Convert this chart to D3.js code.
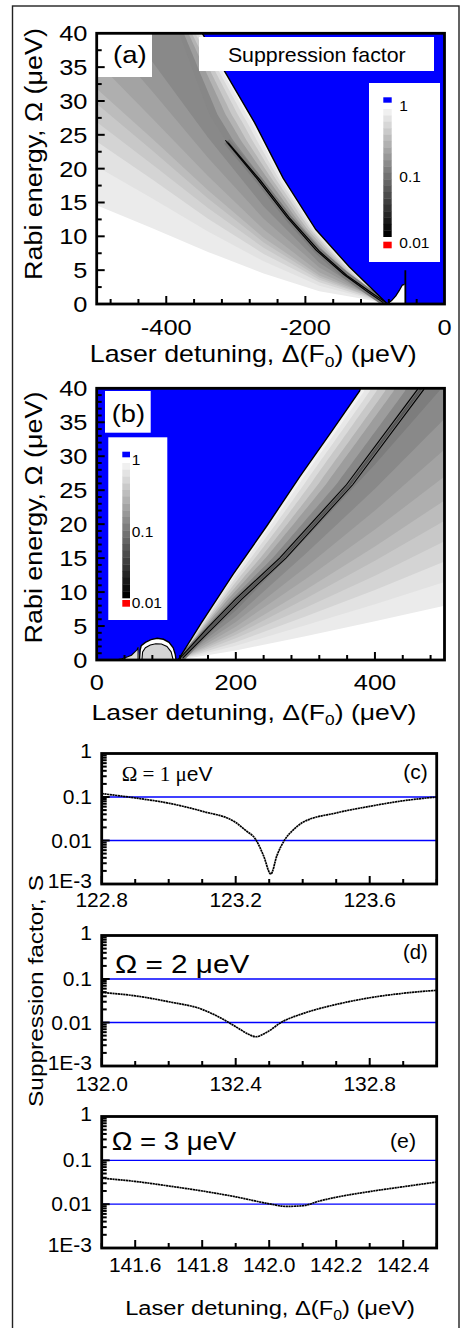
<!DOCTYPE html>
<html><head><meta charset="utf-8">
<script src="https://cdn.jsdelivr.net/npm/d3@7"></script>
<style>html,body{margin:0;padding:0;background:#fff}svg{display:block}</style>
</head><body>
<svg id="fig" width="461" height="1328" xmlns="http://www.w3.org/2000/svg"></svg>
<script>
// ================= DATA =================
// colour bar ticks (suppression factor)
const cbarTicks = [1, 0.1, 0.01];

// ---- panel (a): detuning (µeV) vs Rabi energy (µeV) ----
const aXTickLabels = [-400, -200, 0];
const aYTickLabels = [0, 5, 10, 15, 20, 25, 30, 35, 40];
const aBoundary = [[-82,0],[-103,2.1],[-137,5.5],[-185,11],[-232,18.6],[-273,26.8],[-315,34.2],[-354,41]];
const aRes1 = [[-88,0.2],[-112,1.9],[-145,4.4],[-185,8],[-227,12.9],[-270,18.6],[-315,24.2]];
const aRes2 = [[-84,0.2],[-107,1.8],[-140,4.2],[-180,7.8],[-222,12.6],[-265,18.3],[-311,23.8]];
const aRidgeTop = [[-338,28],[-360,34],[-385,41]];
const aFanDelta = [-500,-420,-340,-260,-180,-120,-82];
const aFanLevels = [0.76,0.64,0.5,0.4,0.32,0.25,0.2,0.16,0.125];
const aFanOmega = [
  [14.6,11.2,7.7,4.5,1.9,0.8,0],
  [20.3,15.6,10.7,6.3,2.7,1.1,0],
  [24.0,18.4,12.6,7.4,3.2,1.3,0],
  [26.9,20.6,14.2,8.3,3.6,1.5,0],
  [29.6,22.7,15.6,9.1,3.9,1.6,0],
  [31.8,24.4,16.8,9.8,4.2,1.8,0],
  [35.8,27.4,18.9,11.0,4.7,1.9,0],
  [40.9,31.4,21.6,12.6,5.4,2.0,0],
  [46.7,35.8,24.6,14.4,6.1,2.1,0]];
const aSideLobe = [[-81.3,0.1],[-76,0.5],[-70,1.2],[-65,2.0],[-60.6,2.8],[-57.5,2.9]];
const aSpike = [[-56.3,0],[-56.3,5.0]];

// ---- panel (b) ----
const bXTickLabels = [0, 200, 400];
const bYTickLabels = [0, 5, 10, 15, 20, 25, 30, 35, 40];
const bBoundary = [[117,0],[150,5.4],[196,12.6],[245,19.8],[292,27],[336,33.4],[378,39.6],[382,41]];
const bRes1 = [[120,0.3],[160,4.8],[200,9.0],[263,15],[359,25.8],[461,39.8],[463,41]];
const bRes2 = [[124,0.3],[168,4.8],[209,9.0],[272,15],[368,25.8],[470,39.8],[472,41]];
const bFanDelta = [117,200,300,400,500];
const bFanLevels = [0.76,0.64,0.5,0.4,0.32,0.25,0.2,0.16,0.125,0.1];
const bFanOmega = [
  [0,1.4,3.5,5.7,8],
  [0,2.1,5.1,8.2,11.5],
  [0,2.6,6.4,10.3,14.5],
  [0,3.2,7.7,12.4,17.5],
  [0,3.7,9.0,14.6,20.5],
  [0,4.2,10.3,16.7,23.5],
  [0,4.9,11.9,19.2,27],
  [0,5.6,13.6,22.0,31],
  [0,6.4,15.6,25.2,35.5],
  [0,7.3,17.8,28.8,40.5]];
const bDome = [[114,0],[113,0.8],[110,1.8],[104,2.6],[96,3.05],[87,3.2],[78,3.0],[70,2.6],[64,2.1],[62.5,1.5],[61.5,0]];
const bDomeInner = [[110,0],[107,1.2],[101,2.0],[93,2.35],[85,2.4],[77,2.2],[70,1.8],[66,1.2],[65,0]];
const bSliver = [[28,0],[40,0.3],[50,0.7],[58,1.5],[59.5,1.9],[59.5,0]];

// near-boundary gradient (fraction of the way from boundary to resonance) and level
const stripT = [1, 0.8, 0.6, 0.45, 0.3, 0.18, 0.08];
const stripLevels = [0.12, 0.18, 0.27, 0.4, 0.55, 0.72, 0.88];

// ---- panels (c)-(e): suppression factor vs detuning ----
const logTickValues = [1e-3, 1e-2, 1e-1, 1];
const logTickLabels = ["1E-3", "0.01", "0.1", "1"];
const refLines = [0.1, 0.01];

const cDelta = [122.8,122.9,123.0,123.1,123.2,123.23,123.26,123.283,123.305,123.323,123.345,123.37,123.4,123.5,123.6,123.7,123.8];
const cS     = [0.12,0.095,0.072,0.047,0.026,0.017,0.0105,0.0045,0.0017,0.0045,0.01,0.017,0.026,0.043,0.061,0.082,0.1];
const cXTicks = [122.8, 123.2, 123.6];

const dDelta = [132.0,132.1,132.2,132.3,132.37,132.41,132.44,132.46,132.49,132.54,132.6,132.7,132.8,132.9,133.0];
const dS     = [0.049,0.041,0.03,0.02,0.011,0.0072,0.0053,0.0047,0.0058,0.0105,0.016,0.026,0.037,0.047,0.055];
const dXTicks = [132.0, 132.4, 132.8];

const eDelta = [141.5,141.6,141.7,141.8,141.9,142.0,142.05,142.1,142.15,142.2,142.3,142.4,142.5];
const eS     = [0.039,0.033,0.026,0.020,0.0147,0.0102,0.0089,0.0092,0.0118,0.0144,0.0194,0.025,0.032];
const eXTicks = [141.6, 141.8, 142.0, 142.2, 142.4];

// ================= DRAWING =================
const svg = d3.select('#fig');
const defs = svg.append('defs');
const SANS = "'Liberation Sans', Arial, Helvetica, sans-serif";
const SERIF = "'Liberation Serif', 'Times New Roman', serif";
const BLUE = '#0000ff', RED = '#ff0000';
const grayLevel = d3.scaleLog().domain([0.01, 1]).range([0, 250]).clamp(true);
const shade = s => { const g = Math.round(grayLevel(s)); return d3.rgb(g, g, g).formatHex(); };

function label(parent, o) {
  const g = parent.append('g').attr('transform', `translate(${o.x},${o.y})` + (o.rotate ? ` rotate(${o.rotate})` : ''));
  const t = g.append('text').attr('x', 0).attr('y', 0)
    .attr('font-family', o.family || SANS).attr('font-size', o.size)
    .attr('text-anchor', o.anchor || 'start').attr('fill', '#000');
  (o.parts || [{ text: o.text }]).forEach(p => {
    const ts = t.append('tspan').text(p.text);
    if (p.family) ts.attr('font-family', p.family);
    if (p.size) ts.attr('font-size', p.size);
    if (p.dy) ts.attr('dy', p.dy);
  });
  let sx = o.sx || 1;
  if (o.width) sx = o.width / t.node().getBBox().width;
  if (sx !== 1) t.attr('transform', `scale(${sx},1)`);
  return t;
}

function ticks(g, o) {
  const tk = g.append('g').attr('stroke', '#000').attr('stroke-width', 2);
  o.yMinor.forEach(v => tk.append('line').attr('x1', o.left).attr('x2', o.left + 5).attr('y1', o.ys(v)).attr('y2', o.ys(v)));
  o.yMajor.forEach(v => tk.append('line').attr('x1', o.left).attr('x2', o.left + 8).attr('y1', o.ys(v)).attr('y2', o.ys(v)));
  o.xMinor.forEach(v => tk.append('line').attr('y1', o.bottom).attr('y2', o.bottom - 5).attr('x1', o.xs(v)).attr('x2', o.xs(v)));
  o.xMajor.forEach(v => tk.append('line').attr('y1', o.bottom).attr('y2', o.bottom - 8).attr('x1', o.xs(v)).attr('x2', o.xs(v)));
}

function frame(g, left, top, right, bottom) {
  g.append('rect').attr('x', left).attr('y', top).attr('width', right - left).attr('height', bottom - top)
    .attr('fill', 'none').attr('stroke', '#000').attr('stroke-width', 2.8);
}

function colorbar(g, c) {
  g.append('rect').attr('x', c.box[0]).attr('y', c.box[1]).attr('width', c.box[2]).attr('height', c.box[3]).attr('fill', '#fff');
  const yc = d3.scaleLog().domain([1, 0.01]).range([c.top, c.bottom]);
  const n = 20;
  d3.range(n).forEach(i => {
    const s0 = Math.pow(10, -2 * i / n), s1 = Math.pow(10, -2 * (i + 1) / n);
    const gv = Math.round((n - 1 - i) / (n - 1) * 240);
    g.append('rect').attr('x', c.x).attr('width', c.w).attr('y', yc(s0)).attr('height', yc(s1) - yc(s0) + 0.3)
      .attr('fill', d3.rgb(gv, gv, gv).formatHex());
  });
  g.append('rect').attr('x', c.x).attr('width', c.w).attr('y', c.blue[0]).attr('height', c.blue[1] - c.blue[0]).attr('fill', BLUE);
  g.append('rect').attr('x', c.x).attr('width', c.w).attr('y', c.red[0]).attr('height', c.red[1] - c.red[0]).attr('fill', RED);
  cbarTicks.forEach((v, i) => label(g, { x: c.labelX, y: c.labelY[i], text: String(v), size: 15.5 }));
}

function heatPanel(c) {
  const xs = d3.scaleLinear().domain(c.xDomain).range([c.left, c.right]);
  const ys = d3.scaleLinear().domain([0, 40]).range([c.bottom, c.top]);
  const line = d3.line().x(d => xs(d[0])).y(d => ys(d[1]));
  defs.append('clipPath').attr('id', c.id).append('rect')
    .attr('x', c.left).attr('y', c.top).attr('width', c.right - c.left).attr('height', c.bottom - c.top);
  const g = svg.append('g');
  const p = g.append('g').attr('clip-path', `url(#${c.id})`);
  p.append('rect').attr('x', c.left).attr('y', c.top).attr('width', c.right - c.left).attr('height', c.bottom - c.top).attr('fill', '#fff');
  // fan-shaped bands
  c.fanOmega.forEach((row, k) => {
    const contour = c.fanDelta.map((d, i) => [d, row[i]]);
    p.append('path').attr('d', line(c.fanPoly(contour)) + 'Z').attr('fill', shade(c.fanLevels[k]));
  });
  // gradient strips between blue boundary and resonance
  const bOf = d3.scaleLinear().domain(c.boundary.map(d => d[1])).range(c.boundary.map(d => d[0]));
  const eOf = d3.scaleLinear().domain(c.ridge.map(d => d[1])).range(c.ridge.map(d => d[0]));
  const ws = d3.range(0, 41.01, 0.5);
  stripT.forEach((t, k) => {
    const edge = ws.map(w => [bOf(w), w]);
    const inner = ws.map(w => [bOf(w) + t * (eOf(w) - bOf(w)), w]).reverse();
    p.append('path').attr('d', line(edge.concat(inner)) + 'Z').attr('fill', shade(stripLevels[k]));
  });
  // resonance halo + lines
  const mid = c.res1.map((d, i) => [(d[0] + c.res2[i][0]) / 2, (d[1] + c.res2[i][1]) / 2]);
  p.append('path').attr('d', line(mid)).attr('fill', 'none').attr('stroke', shade(0.1)).attr('stroke-width', 7);
  p.append('path').attr('d', line(mid)).attr('fill', 'none').attr('stroke', shade(0.05)).attr('stroke-width', 2.5);
  [c.res1, c.res2].forEach(r => p.append('path').attr('d', line(r)).attr('fill', 'none').attr('stroke', '#000').attr('stroke-width', 1.1));
  // blue region (S >= 1)
  p.append('path').attr('d', line(c.bluePoly) + 'Z').attr('fill', BLUE);
  p.append('path').attr('d', line(c.boundary)).attr('fill', 'none').attr('stroke', '#000').attr('stroke-width', 1.4);
  if (c.extra) c.extra(p, line);
  return { g, xs, ys, line };
}

// outer frame
svg.append('rect').attr('x', 12.5).attr('y', 6).attr('width', 446.5).attr('height', 1340)
  .attr('fill', 'none').attr('stroke', '#222').attr('stroke-width', 1.4);

// ---------- panel (a) ----------
{
  const L = 96.7, R = 444.5, T = 33.3, B = 304;
  const A = heatPanel({
    id: 'clipA', xDomain: [-500, 0], left: L, right: R, top: T, bottom: B,
    fanDelta: aFanDelta, fanOmega: aFanOmega, fanLevels: aFanLevels,
    fanPoly: contour => [[-530, contour[0][1]]].concat(contour, aBoundary, [[-354, 60], [-530, 60]]),
    boundary: aBoundary, ridge: aRes1.concat(aRidgeTop), res1: aRes1, res2: aRes2,
    bluePoly: [[20, 60], [20, -5], [aSpike[0][0], -5], [aSpike[0][0], 2.9]].concat(aSideLobe.slice().reverse(), aBoundary, [[-354, 60]]),
    extra: (p, line) => {
      p.append('path').attr('d', line(aSideLobe)).attr('fill', 'none').attr('stroke', '#000').attr('stroke-width', 1.3);
      p.append('path').attr('d', line(aSpike)).attr('fill', 'none').attr('stroke', '#000').attr('stroke-width', 1.8);
    }
  });
  const g = A.g;
  // label boxes
  g.append('rect').attr('x', L).attr('y', T).attr('width', 152 - L).attr('height', 77 - T).attr('fill', '#fff');
  label(g, { x: 113, y: 63.3, text: '(a)', size: 24, width: 33.7 });
  g.append('rect').attr('x', 199).attr('y', 37).attr('width', 235).attr('height', 34).attr('fill', '#fff');
  label(g, { x: 316.8, y: 61.7, text: 'Suppression factor', size: 21, anchor: 'middle', width: 178 });
  colorbar(g, { box: [369, 83, 71, 179], x: 383.3, w: 8.4, top: 109, bottom: 236.7, blue: [97.3, 102.7], red: [241.7, 248.3],
    labelX: 399.3, labelY: [110.7, 181.7, 248.3] });
  frame(g, L, T, R, B);
  ticks(g, { xs: A.xs, ys: A.ys, left: L, bottom: B,
    yMinor: d3.range(2.5, 40, 5), yMajor: aYTickLabels.slice(1, -1),
    xMinor: d3.range(-480, 0, 40).filter(v => v % 200 !== 0), xMajor: aXTickLabels.slice(0, -1) });
  aYTickLabels.forEach(v => label(g, { x: 87.5, y: A.ys(v) + 8, text: String(v), size: 22.5, anchor: 'end', sx: 1.13 }));
  aXTickLabels.forEach(v => label(g, { x: A.xs(v), y: 335, text: String(v), size: 22.5, anchor: 'middle', sx: 1.13 }));
  label(g, { x: 253.3, y: 362, size: 23, anchor: 'middle', width: 327,
    parts: [{ text: 'Laser detuning, \u0394(F' }, { text: '0', size: 15, dy: 5 }, { text: ') (\u03bceV)', dy: -5 }] });
  label(g, { x: 41.7, y: 154, rotate: -90, text: 'Rabi energy, \u03a9 (\u03bceV)', size: 23, anchor: 'middle', width: 252 });
}

// ---------- panel (b) ----------
{
  const L = 96.7, R = 444.5, T = 388.3, B = 660;
  const Bp = heatPanel({
    id: 'clipB', xDomain: [0, 500], left: L, right: R, top: T, bottom: B,
    fanDelta: bFanDelta, fanOmega: bFanOmega, fanLevels: bFanLevels,
    fanPoly: contour => contour.concat([[530, contour[contour.length - 1][1] * 1.06], [530, 60], [382, 60]], bBoundary.slice().reverse()),
    boundary: bBoundary, ridge: bRes1, res1: bRes1, res2: bRes2,
    bluePoly: [[-20, 60], [382, 60]].concat(bBoundary.slice().reverse(), bDome,
      bSliver.slice(0, -1).reverse(), [[-20, -5]]),
    extra: (p, line) => {
      p.append('path').attr('d', line(bDomeInner)).attr('fill', shade(0.5)).attr('stroke', '#000').attr('stroke-width', 1.1);
      p.append('path').attr('d', line(bDome)).attr('fill', 'none').attr('stroke', '#000').attr('stroke-width', 1.4);
      p.append('path').attr('d', line(bSliver) + 'Z').attr('fill', shade(0.6)).attr('stroke', '#000').attr('stroke-width', 1.1);
    }
  });
  const g = Bp.g;
  g.append('rect').attr('x', 105).attr('y', 391).attr('width', 45.7).attr('height', 41.7).attr('fill', '#fff');
  label(g, { x: 111.7, y: 422, text: '(b)', size: 24, width: 33.3 });
  colorbar(g, { box: [108.3, 437.3, 59, 182.7], x: 122.3, w: 7.7, top: 463, bottom: 598, blue: [451.7, 457.3], red: [600, 606.7],
    labelX: 131.7, labelY: [465, 536.7, 607.7] });
  frame(g, L, T, R, B);
  ticks(g, { xs: Bp.xs, ys: Bp.ys, left: L, bottom: B,
    yMinor: d3.range(1, 40, 1).filter(v => v % 5 !== 0), yMajor: bYTickLabels.slice(1, -1),
    xMinor: d3.range(40, 500, 40).filter(v => v % 200 !== 0), xMajor: bXTickLabels.slice(1) });
  bYTickLabels.forEach(v => label(g, { x: 87.5, y: Bp.ys(v) + 8, text: String(v), size: 22.5, anchor: 'end', sx: 1.13 }));
  bXTickLabels.forEach(v => label(g, { x: Bp.xs(v), y: 690, text: String(v), size: 22.5, anchor: 'middle', sx: 1.13 }));
  label(g, { x: 254, y: 720, size: 23, anchor: 'middle', width: 325,
    parts: [{ text: 'Laser detuning, \u0394(F' }, { text: '0', size: 15, dy: 5 }, { text: ') (\u03bceV)', dy: -5 }] });
  label(g, { x: 41.7, y: 517.5, rotate: -90, text: 'Rabi energy, \u03a9 (\u03bceV)', size: 23, anchor: 'middle', width: 252 });
}

// ---------- panels (c)-(e) ----------
const logLabelShift = [4, 7, 7, 4.5];
function curvePanel(c) {
  const L = 101.7, R = 436.7;
  const xs = d3.scaleLinear().domain(c.xDomain).range([L, R]);
  const ys = d3.scaleLog().domain([1e-3, 1]).range([c.bottom, c.top]);
  const g = svg.append('g');
  refLines.forEach(v => g.append('line').attr('x1', L).attr('x2', R).attr('y1', ys(v)).attr('y2', ys(v))
    .attr('stroke', BLUE).attr('stroke-width', 1.4));
  const pts = c.delta.map((d, i) => [d, c.s[i]]);
  g.append('path').attr('d', d3.line().x(d => xs(d[0])).y(d => ys(d[1])).curve(d3.curveMonotoneX)(pts))
    .attr('fill', 'none').attr('stroke', '#000').attr('stroke-width', 1.7).attr('stroke-dasharray', '2.2,0.5');
  frame(g, L, c.top, R, c.bottom);
  const minor = [];
  [1e-3, 1e-2, 1e-1].forEach(dec => d3.range(2, 10).forEach(m => minor.push(m * dec)));
  const step = 0.1;
  const xMinor = d3.range(0, 11).map(i => +(c.xDomain[0] + i * step).toFixed(2)).filter(v => !c.xTicks.some(t => Math.abs(t - v) < 1e-6));
  ticks(g, { xs, ys, left: L, bottom: c.bottom, yMinor: minor, yMajor: [1e-2, 1e-1], xMinor, xMajor: c.xTicks });
  logTickValues.forEach((v, i) => label(g, { x: 92, y: ys(v) + logLabelShift[i], text: logTickLabels[i], size: 21, anchor: 'end' }));
  c.xTicks.forEach(v => label(g, { x: xs(v), y: c.labelBase, text: d3.format('.1f')(v), size: 21, anchor: 'middle' }));
  return g;
}

const gc = curvePanel({ xDomain: [122.8, 123.8], top: 753.5, bottom: 884, delta: cDelta, s: cS, xTicks: cXTicks, labelBase: 907 });
label(gc, { x: 121.7, y: 781, size: 20, family: SERIF, width: 91.6,
  parts: [{ text: '\u03a9 = 1 \u03bc' }, { text: 'eV', family: SANS }] });
label(gc, { x: 403.3, y: 779, text: '(c)', size: 20, width: 24.4 });

const gd = curvePanel({ xDomain: [132.0, 133.0], top: 935.5, bottom: 1066, delta: dDelta, s: dS, xTicks: dXTicks, labelBase: 1090.5 });
label(gd, { x: 115, y: 973, text: '\u03a9 = 2 \u03bceV', size: 26, width: 135 });
label(gd, { x: 403, y: 959, text: '(d)', size: 20, width: 24.7 });

const ge = curvePanel({ xDomain: [141.5, 142.5], top: 1116.5, bottom: 1248, delta: eDelta, s: eS, xTicks: eXTicks, labelBase: 1272 });
label(ge, { x: 111.7, y: 1150, text: '\u03a9 = 3 \u03bceV', size: 25, width: 125 });
label(ge, { x: 390, y: 1148, text: '(e)', size: 20, width: 26 });

label(svg, { x: 270, y: 1315, size: 21, anchor: 'middle', width: 290,
  parts: [{ text: 'Laser detuning, \u0394(F' }, { text: '0', size: 14, dy: 5 }, { text: ') (\u03bceV)', dy: -5 }] });
label(svg, { x: 43, y: 991, rotate: -90, text: 'Suppression factor, S', size: 21, anchor: 'middle', width: 232 });
</script>
</body></html>
